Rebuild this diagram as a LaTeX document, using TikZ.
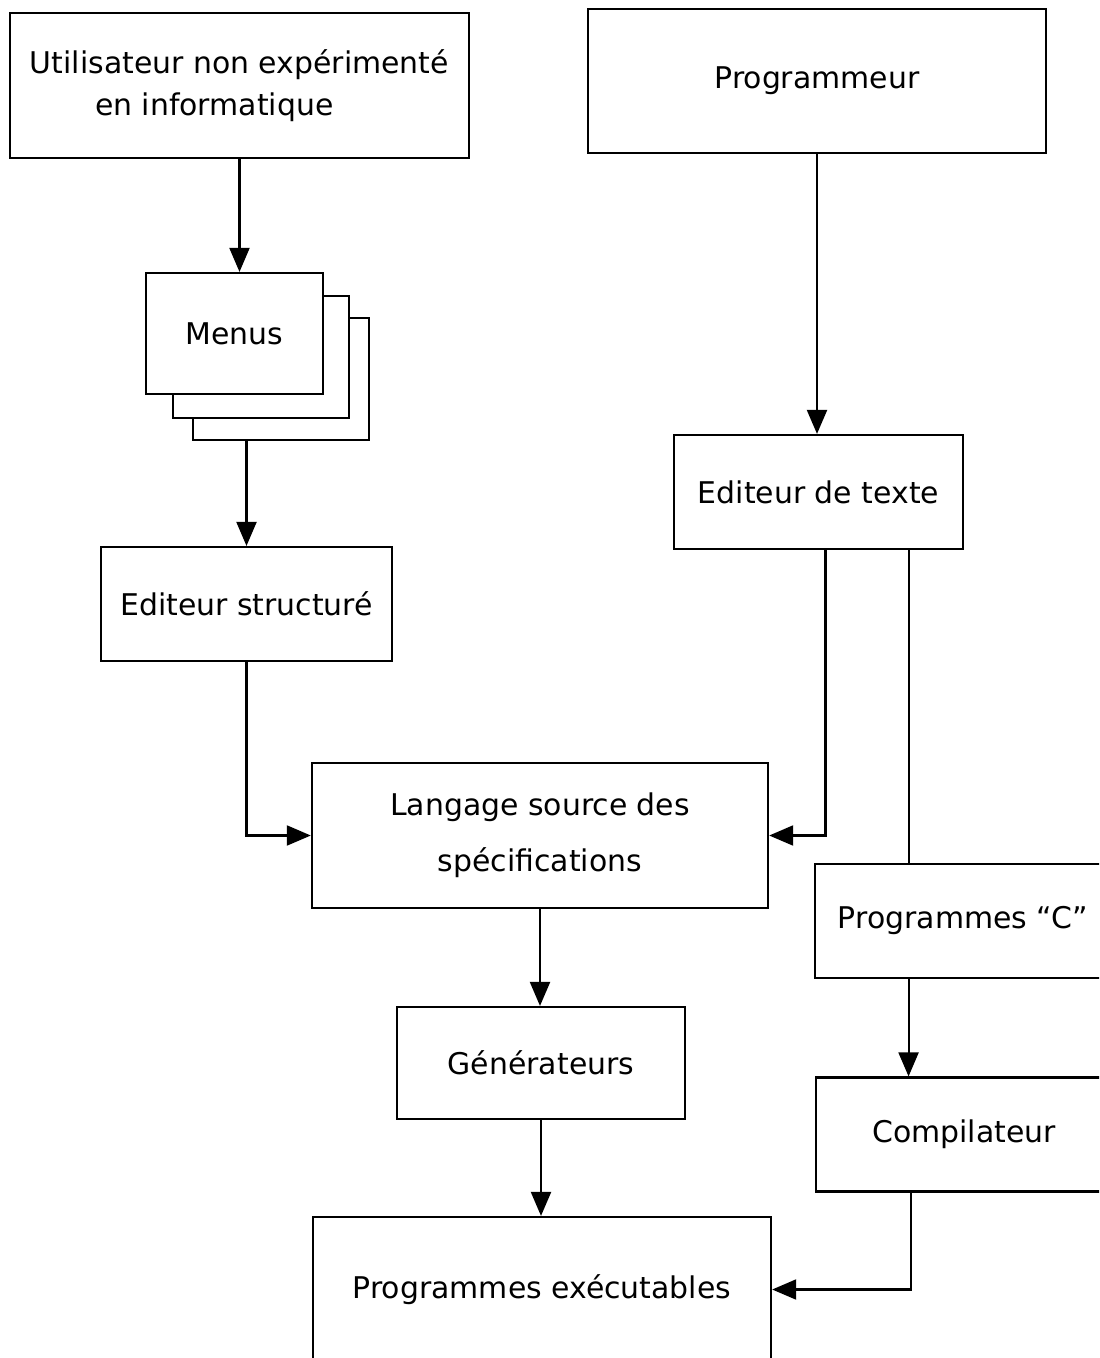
\documentclass[tikz,border=0pt]{standalone}
\usepackage{fontspec}
\setmainfont{DejaVu Sans}
\usetikzlibrary{arrows.meta}
\tikzset{
  box/.style={draw, line width=0.6pt, fill=white, inner sep=0pt, align=center,
    font=\fontsize{8.5}{12}\selectfont},
  flow/.style={-{Triangle[length=2.4mm, width=2mm]}, line width=0.6pt},
  link/.style={line width=0.6pt}
}

\begin{document}
\begin{tikzpicture}[x=0.01cm, y=-0.01cm]
\clip (0,0) rectangle (1099,1358);
\fill[white] (0,0) rectangle (1099,1358);
% left branch
\node[box, minimum width=4.59cm, minimum height=1.45cm, align=left] (user) at (239.5,85.5)
  {Utilisateur non expérimenté\\\hspace{0.65cm}en informatique};
\node[box, minimum width=1.76cm, minimum height=1.22cm] (menusC) at (281,379) {};
\node[box, minimum width=1.76cm, minimum height=1.22cm] (menusB) at (261,357) {};
\node[box, minimum width=1.77cm, minimum height=1.21cm] (menus) at (234.5,333.5) {Menus};
\node[box, minimum width=2.91cm, minimum height=1.14cm] (edstr) at (246.5,604) {Editeur structuré};
% right branch
\node[box, minimum width=4.58cm, minimum height=1.44cm] (prog) at (817,81) {Programmeur};
\node[box, minimum width=2.89cm, minimum height=1.14cm] (edtxt) at (818.5,492) {Editeur de texte};
\node[box, minimum width=2.95cm, minimum height=1.14cm] (progc) at (963,921) {Programmes ``C''};
\node[box, minimum width=2.95cm, minimum height=1.14cm] (comp) at (964,1134.5) {Compilateur};
% centre
\node[box, minimum width=4.56cm, minimum height=1.45cm, font=\fontsize{8.5}{16}\selectfont] (lang) at (540,835.5)
  {\raisebox{-0.06cm}{Langage source des}\\\raisebox{-0.06cm}{spécifications}};
\node[box, minimum width=2.88cm, minimum height=1.12cm] (gen) at (541,1063) {Générateurs};
\node[box, minimum width=4.58cm, minimum height=1.45cm] (exec) at (542,1289.5) {Programmes exécutables};

\draw[flow] (user.south) -- (user.south |- menus.north);
\draw[flow] (edstr.north |- menusC.south) -- (edstr.north);
\draw[flow] (edstr.south) |- (lang.west);
\draw[flow] (prog.south) -- (prog.south |- edtxt.north);
\draw[flow] ([xshift=0.07cm]edtxt.south) |- (lang.east);
\draw[link] ([xshift=0.9cm]edtxt.south) coordinate (t) -- (t |- progc.north);
\draw[flow] (t |- progc.south) -- (t |- comp.north);
\draw[flow] ([xshift=0.02cm]t |- comp.south) |- (exec.east);
\draw[flow] (lang.south) -- (lang.south |- gen.north);
\draw[flow] (gen.south) -- (gen.south |- exec.north);
\end{tikzpicture}
\end{document}
